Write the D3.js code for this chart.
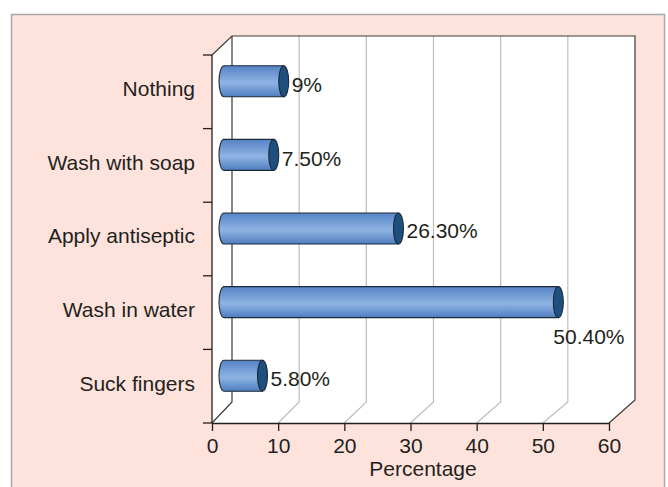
<!DOCTYPE html>
<html>
<head>
<meta charset="utf-8">
<script src="https://cdn.jsdelivr.net/npm/d3@7"></script>
<style>
  html, body { margin: 0; padding: 0; background: #fff; }
  svg text { font-family: "Liberation Sans", Arial, sans-serif; fill: #231f20; }
</style>
</head>
<body>
<div id="chart"></div>
<script>
// ---- data ----
const categories = ["Nothing", "Wash with soap", "Apply antiseptic", "Wash in water", "Suck fingers"];
const values = [9, 7.5, 26.3, 50.4, 5.8];
const valueLabels = ["9%", "7.50%", "26.30%", "50.40%", "5.80%"];
const xTicks = [0, 10, 20, 30, 40, 50, 60];

const W = 668, H = 487;
const svg = d3.select("#chart").append("svg")
    .attr("width", W).attr("height", H);

// pink panel
svg.append("rect")
    .attr("x", 11.5).attr("y", 14.5).attr("width", 653).attr("height", 480)
    .attr("fill", "#fde3dc").attr("stroke", "#a9a9a9").attr("stroke-width", 1.5);

// gradient for cylinder body
const defs = svg.append("defs");
const grad = defs.append("linearGradient").attr("id", "cyl")
    .attr("x1", 0).attr("y1", 0).attr("x2", 0).attr("y2", 1);
grad.append("stop").attr("offset", "0%").attr("stop-color", "#5583c6");
grad.append("stop").attr("offset", "55%").attr("stop-color", "#8fb4e3");
grad.append("stop").attr("offset", "100%").attr("stop-color", "#4f7dbf");

// ---- scales ----
const front = { left: 212, right: 609, top: 55, bottom: 423 };
const back = { left: 232, right: 635, top: 36, bottom: 402 };

const xFront = d3.scaleLinear().domain([0, 60]).range([front.left, front.right]);
const xBack = d3.scaleLinear().domain([0, 60]).range([back.left, back.right]);
const xMid = d3.scaleLinear().domain([0, 60]).range([224, 622]);
const y = d3.scaleBand().domain(categories).range([front.top, front.bottom]);
const midShift = (back.bottom - front.bottom) / 2;

// ---- plot walls ----
svg.append("path")
    .attr("d", `M${front.left},${front.bottom} L${front.left},${front.top} L${back.left},${back.top}
                L${back.right},${back.top} L${back.right},${back.bottom - 2} L${front.right},${front.bottom} Z`)
    .attr("fill", "#fff");

// gridlines (floor slant + back wall vertical)
const grid = svg.append("g");
xTicks.slice(1, -1).forEach(t => {
    grid.append("path")
        .attr("d", `M${xFront(t)},${front.bottom} L${xBack(t)},${back.bottom} L${xBack(t)},${back.top}`)
        .attr("fill", "none").attr("stroke", "#bdbdbd").attr("stroke-width", 1.2);
});

// dark frame lines
const frame = svg.append("g").attr("fill", "none").attr("stroke", "#3a3a3a").attr("stroke-width", 1.2);
frame.append("path")
    .attr("d", `M${front.left},${front.bottom} L${back.left},${back.bottom} L${back.left},${back.top}`);
frame.append("path")
    .attr("d", `M${front.left},${front.top} L${back.left},${back.top} L${back.right},${back.top}
                L${back.right},${back.bottom - 2} L${front.right},${front.bottom}`);

// ---- axes ----
const xAxis = svg.append("g")
    .attr("transform", `translate(0,${front.bottom})`)
    .call(d3.axisBottom(xFront).tickValues(xTicks).tickSize(8).tickPadding(7).tickSizeOuter(0));
xAxis.select(".domain").attr("stroke", "#231f20").attr("stroke-width", 1.3);
xAxis.selectAll(".tick line").attr("stroke", "#231f20").attr("stroke-width", 1.3);
xAxis.selectAll("text").attr("font-size", 21).attr("fill", "#231f20");

const yTickPos = categories.map(c => y(c)).concat([front.bottom]);
const yAxis = svg.append("g");
yAxis.append("line")
    .attr("x1", front.left).attr("x2", front.left)
    .attr("y1", front.top).attr("y2", front.bottom)
    .attr("stroke", "#231f20").attr("stroke-width", 1.3);
yAxis.selectAll(".yt").data(yTickPos).enter().append("line")
    .attr("x1", front.left - 9).attr("x2", front.left)
    .attr("y1", d => d).attr("y2", d => d)
    .attr("stroke", "#231f20").attr("stroke-width", 1.3);

svg.append("g").selectAll("text").data(categories).enter().append("text")
    .attr("x", 195)
    .attr("y", d => y(d) + y.bandwidth() / 2 - 3)
    .attr("dy", "0.35em")
    .attr("text-anchor", "end")
    .attr("font-size", 21)
    .text(d => d);

svg.append("text")
    .attr("x", 423)
    .attr("y", 476)
    .attr("text-anchor", "middle")
    .attr("font-size", 21)
    .text("Percentage");

// ---- cylinders ----
const ry = 15.5, rx = 5;
const bars = svg.append("g").selectAll("g").data(categories).enter().append("g");
bars.each(function (c, i) {
    const g = d3.select(this);
    const cy = y(c) + y.bandwidth() / 2 + midShift;
    const x0 = xMid(0), x1 = xMid(values[i]);
    g.append("path")
        .attr("d", `M${x0},${cy - ry} L${x1},${cy - ry} L${x1},${cy + ry} L${x0},${cy + ry}
                    A${rx},${ry} 0 0 1 ${x0},${cy - ry} Z`)
        .attr("fill", "url(#cyl)").attr("stroke", "#1f2a38").attr("stroke-width", 1.1);
    g.append("ellipse")
        .attr("cx", x1).attr("cy", cy).attr("rx", rx).attr("ry", ry)
        .attr("fill", "#1d4f7f").attr("stroke", "#1f2a38").attr("stroke-width", 1.1);
});

// value labels
const labelOffset = [[8, 3], [8, 4], [8, 2], [-5, 35], [8, 3]];
svg.append("g").selectAll("text").data(categories).enter().append("text")
    .attr("x", (c, i) => xMid(values[i]) + labelOffset[i][0])
    .attr("y", (c, i) => y(c) + y.bandwidth() / 2 + midShift + labelOffset[i][1])
    .attr("dy", "0.35em")
    .attr("font-size", 21)
    .text((c, i) => valueLabels[i]);
</script>
</body>
</html>
